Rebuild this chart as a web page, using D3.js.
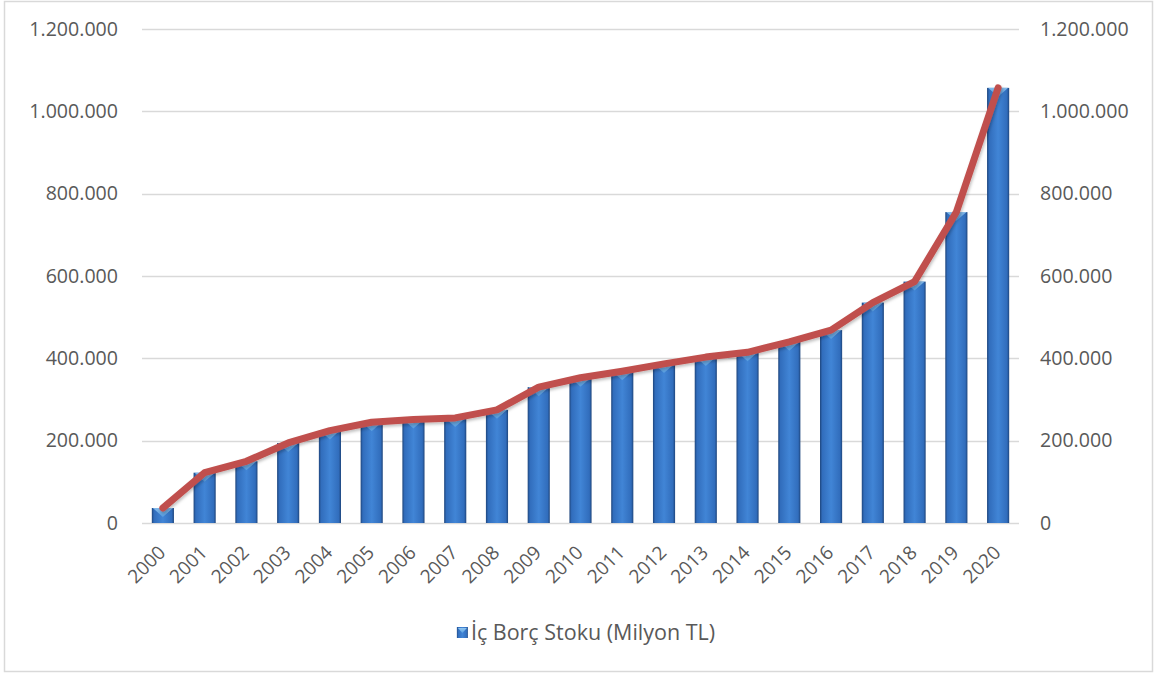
<!DOCTYPE html>
<html>
<head>
<meta charset="utf-8">
<script src="https://cdn.jsdelivr.net/npm/d3@7"></script>
<style>
  html, body { margin: 0; padding: 0; background: #fff; }
  svg { display: block; font-family: "Open Sans", Lato, sans-serif; }
</style>
</head>
<body>
<svg id="chart" width="1157" height="675"></svg>
<script>
// Domestic debt stock by year (million TL)
const years = ["2000","2001","2002","2003","2004","2005","2006","2007","2008","2009","2010",
               "2011","2012","2013","2014","2015","2016","2017","2018","2019","2020"];
const debtStock = [36400, 122200, 149900, 194400, 224500, 244800, 251500, 255300, 274800, 330000, 352800,
                   368700, 386500, 403000, 414600, 440100, 468600, 535400, 586400, 755200, 1057000];
const yTicks = [0, 200000, 400000, 600000, 800000, 1000000, 1200000];
const legendLabel = "İç Borç Stoku (Milyon TL)";

const FONT = "'Open Sans', Lato, sans-serif";
const TEXT = "#595959";

const svg = d3.select("#chart");
const W = 1157, H = 675;
const plot = { left: 142, right: 1019, top: 29, bottom: 523 };

// Outer frame
svg.append("rect")
  .attr("x", 4.5).attr("y", 1.5).attr("width", W - 9).attr("height", H - 5)
  .attr("fill", "#fff").attr("stroke", "#d9d9d9").attr("stroke-width", 1.5);

const x = d3.scaleBand().domain(years).range([plot.left, plot.right]).paddingInner(0.47).paddingOuter(0.235);
const y = d3.scaleLinear().domain([0, 1200000]).range([plot.bottom, plot.top]);
const y2 = d3.scaleLinear().domain([0, 1200000]).range([plot.bottom, plot.top]);

const fmt = v => d3.format(",")(v).replace(/,/g, ".");

// Gradients for the bars
const defs = svg.append("defs");
const g = defs.append("linearGradient").attr("id", "barGrad").attr("x1", "0").attr("x2", "1").attr("y1", "0").attr("y2", "0");
g.append("stop").attr("offset", "0%").attr("stop-color", "#1e457c");
g.append("stop").attr("offset", "10%").attr("stop-color", "#316dbc");
g.append("stop").attr("offset", "50%").attr("stop-color", "#4185d6");
g.append("stop").attr("offset", "90%").attr("stop-color", "#316dbc");
g.append("stop").attr("offset", "100%").attr("stop-color", "#1e457c");
const gt = defs.append("linearGradient").attr("id", "topGrad").attr("x1", "0").attr("x2", "0").attr("y1", "0").attr("y2", "1");
gt.append("stop").attr("offset", "0%").attr("stop-color", "#92c6f0");
gt.append("stop").attr("offset", "100%").attr("stop-color", "#58a0e2");
const shadow = defs.append("filter").attr("id", "lineShadow").attr("x", "-5%").attr("y", "-5%").attr("width", "110%").attr("height", "110%");
shadow.append("feDropShadow").attr("dx", 1).attr("dy", 2).attr("stdDeviation", 1.5).attr("flood-color", "#000").attr("flood-opacity", 0.25);

// Gridlines
svg.append("g").selectAll("line").data(yTicks).join("line")
  .attr("x1", plot.left).attr("x2", plot.right)
  .attr("y1", d => Math.round(y(d)) + 0.5).attr("y2", d => Math.round(y(d)) + 0.5)
  .attr("stroke", "#d9d9d9").attr("stroke-width", 1.5);

// Left axis labels
const leftAxis = d3.axisLeft(y).tickValues(yTicks).tickFormat(fmt).tickSize(0).tickPadding(24);
const la = svg.append("g").attr("transform", `translate(${plot.left},0)`).call(leftAxis);
la.select(".domain").remove();
la.selectAll("text").attr("font-size", 19.6).attr("fill", TEXT).attr("font-family", FONT);

// Right axis labels
const rightAxis = d3.axisRight(y2).tickValues(yTicks).tickFormat(fmt).tickSize(0).tickPadding(21);
const ra = svg.append("g").attr("transform", `translate(${plot.right},0)`).call(rightAxis);
ra.select(".domain").remove();
ra.selectAll("text").attr("font-size", 19.6).attr("fill", TEXT).attr("font-family", FONT);

// Bars
const bars = svg.append("g").selectAll("g").data(years.map((yr, i) => ({ yr, v: debtStock[i] }))).join("g");
bars.append("rect")
  .attr("x", d => x(d.yr)).attr("width", x.bandwidth())
  .attr("y", d => y(d.v)).attr("height", d => y(0) - y(d.v))
  .attr("fill", "url(#barGrad)");
// Bevelled top: a lighter triangle pointing down
bars.append("path")
  .attr("d", d => {
    const x0 = x(d.yr), w = x.bandwidth(), t = y(d.v);
    return `M${x0 + 1},${t} L${x0 + w - 1},${t} L${x0 + w / 2},${t + 9} Z`;
  })
  .attr("fill", "url(#topGrad)").attr("opacity", 0.85);

// X axis labels, rotated
const xAxis = d3.axisBottom(x).tickSize(0).tickPadding(0);
const xa = svg.append("g").attr("transform", `translate(0,${plot.bottom})`).call(xAxis);
xa.select(".domain").remove();
xa.selectAll("text")
  .attr("font-size", 19).attr("fill", TEXT).attr("font-family", FONT)
  .attr("text-anchor", "end").attr("dy", "0.35em")
  .attr("transform", "translate(-1,26) rotate(-45)");

// Line series on the secondary axis
const line = d3.line()
  .x((d, i) => x(years[i]) + x.bandwidth() / 2)
  .y(d => y2(d))
  .curve(d3.curveLinear);
svg.append("path").datum(debtStock)
  .attr("d", line).attr("fill", "none")
  .attr("stroke", "#c0504d").attr("stroke-width", 7).attr("stroke-linecap", "round").attr("stroke-linejoin", "round")
  .attr("filter", "url(#lineShadow)");

// Legend, centred under the plot
const lg = svg.append("g");
lg.append("rect").attr("x", 0).attr("y", -5).attr("width", 11).attr("height", 11).attr("fill", "url(#barGrad)");
lg.append("path").attr("d", "M1,-4 L10,-4 L5.5,1 Z").attr("fill", "url(#topGrad)");
const lt = lg.append("text").attr("x", 14).attr("y", 0).attr("dy", "0.35em")
  .attr("font-size", 21.5).attr("fill", TEXT).attr("font-family", FONT).text(legendLabel);
const lw = 14 + lt.node().getComputedTextLength();
lg.attr("transform", `translate(${586 - lw / 2},632)`);
</script>
</body>
</html>
